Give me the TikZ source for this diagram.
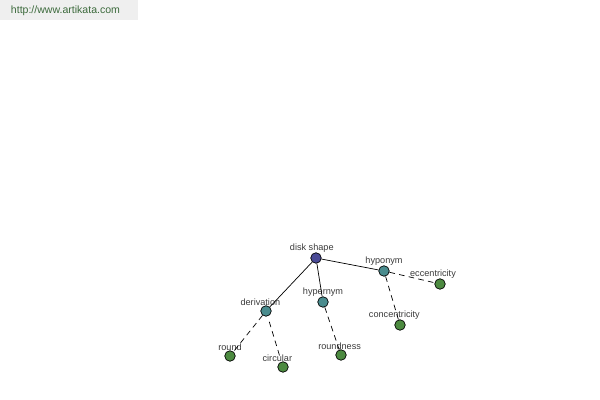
\documentclass[tikz,border=0pt]{standalone}
\usepackage{fontspec}
\setmainfont{Liberation Sans}
\usetikzlibrary{positioning}
\definecolor{rootcol}{HTML}{4A4A96}
\definecolor{relcol}{HTML}{4A8C8E}
\definecolor{leafcol}{HTML}{4C8A40}
\definecolor{txtcol}{HTML}{3A3A3A}
\definecolor{markcol}{HTML}{3C6A3C}
\definecolor{markbg}{HTML}{EFEFEF}
\begin{document}
\begin{tikzpicture}[x=0.025cm,y=-0.025cm,
    every label/.style={font=\fontsize{6.5}{7}\selectfont,text=txtcol,inner sep=1pt},
    label distance=-1pt,
    dot/.style={circle,draw=black,line width=0.5pt,minimum size=7.5pt,inner sep=0pt},
    top/.style={dot,fill=rootcol},
    rel/.style={dot,fill=relcol},
    leaf/.style={dot,fill=leafcol},
    solidlink/.style={draw=black,line width=0.5pt},
    dashlink/.style={draw=black,line width=0.5pt,dash pattern=on 4pt off 3pt,shorten <=4pt,shorten >=4pt}]
    \useasboundingbox (0,0) rectangle (600,400);
    \fill[markbg] (0,0) rectangle (138,20);
    \node[font=\fontsize{7.5}{8}\selectfont,text=markcol,anchor=west] (site) at (6,11) {http://www.artikata.com};

    \node [top,label={[xshift=-3pt]above:disk shape}] (disk) at (316,258) {};
    \node [rel,label={above:hyponym}] (hypo) at (384,271) {};
    \node [rel,label={above:hypernym}] (hyper) at (323,302) {};
    \node [rel,label={[xshift=-4pt]above:derivation}] (deriv) at (266,311) {};
    \node [leaf,label={[xshift=-5pt]above:eccentricity}] (ecc) at (440,284) {};
    \node [leaf,label={[xshift=-4pt]above:concentricity}] (conc) at (400,325) {};
    \node [leaf,label={[xshift=-1pt]above:roundness}] (roundn) at (341,355) {};
    \node [leaf,label={above:round}] (round) at (230,356) {};
    \node [leaf,label={[xshift=-4pt]above:circular}] (circ) at (283,367) {};

    % links from the word to its relations
    \path[solidlink] (disk) -- (hypo)
                     (disk) -- (hyper)
                     (disk) -- (deriv);
    \path[dashlink] (hypo) -- (ecc)
                    (hypo) -- (conc)
                    (hyper) -- (roundn)
                    (deriv) -- (round)
                    (deriv) -- (circ);
\end{tikzpicture}
\end{document}
